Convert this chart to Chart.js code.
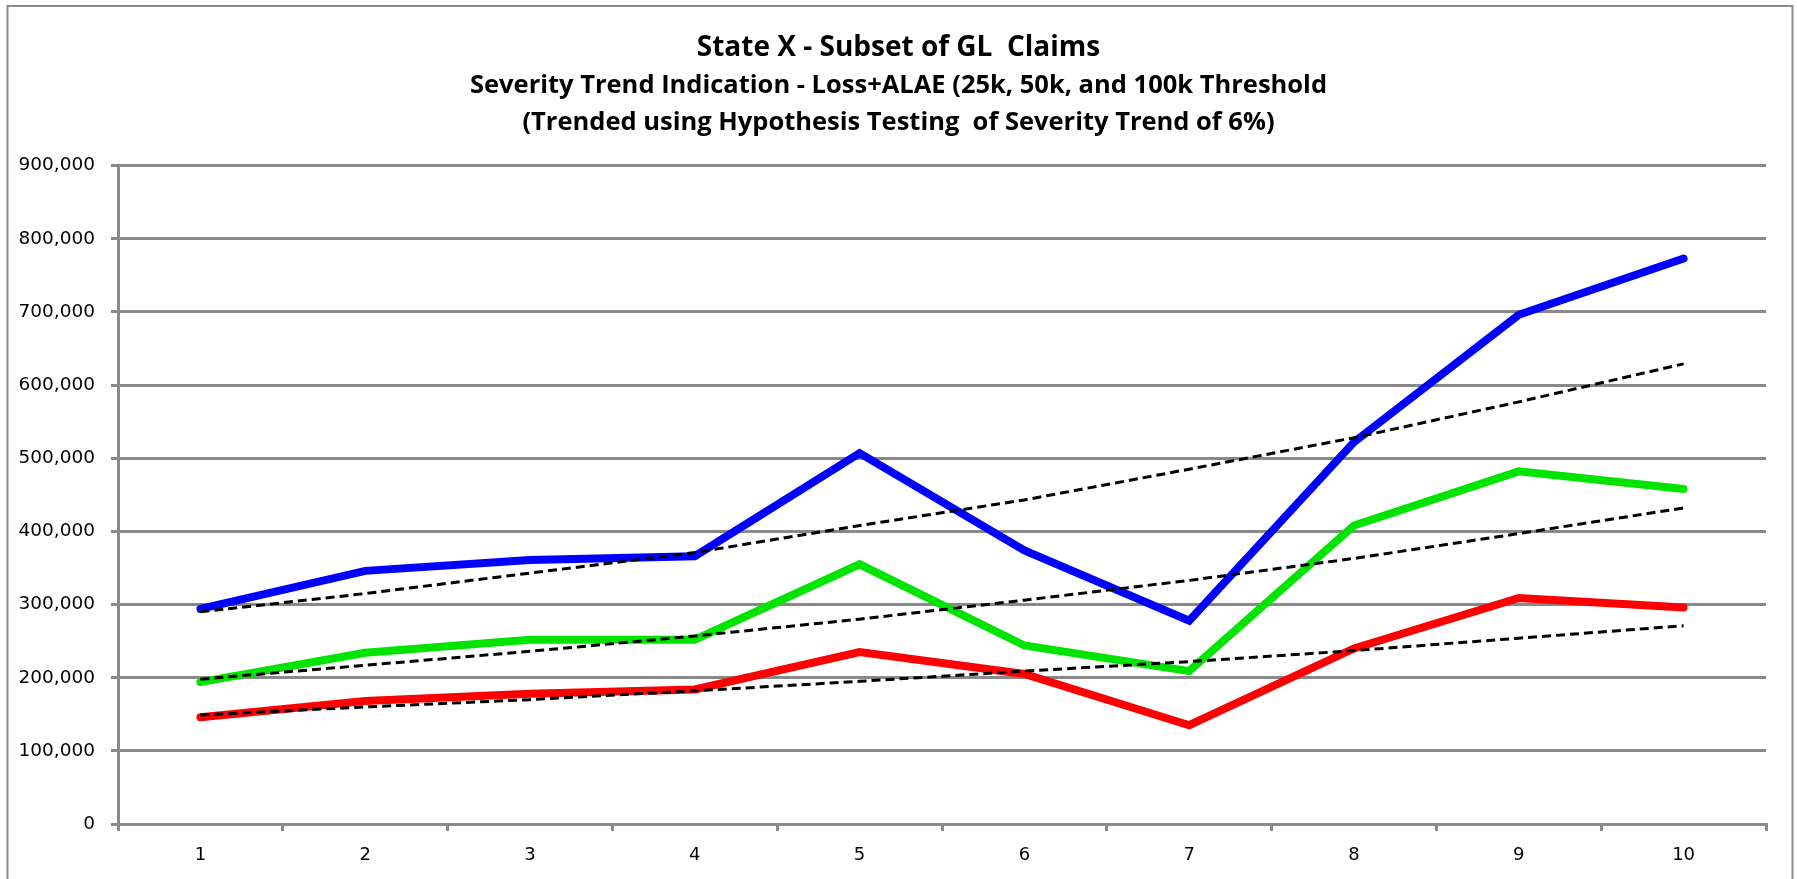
<!DOCTYPE html>
<html>
<head>
<meta charset="utf-8">
<script src="https://cdn.jsdelivr.net/npm/chart.js@4/dist/chart.umd.min.js"></script>
<style>
  html, body { margin: 0; padding: 0; background: #ffffff; }
  #wrap { width: 1797px; height: 879px; position: relative; }
</style>
</head>
<body>
<div id="wrap"><canvas id="chart" width="1797" height="879"></canvas></div>
<script>
// Evaluation periods
const periods = ['1', '2', '3', '4', '5', '6', '7', '8', '9', '10'];

// Average severity (Loss+ALAE) by threshold
const severity100k = [294000, 346000, 361000, 366000, 507000, 374000, 278000, 522000, 696000, 773000];
const severity50k  = [194000, 234000, 252000, 252000, 355000, 244000, 209000, 408000, 482000, 458000];
const severity25k  = [146000, 168000, 178000, 184000, 235000, 205000, 135000, 240000, 309000, 296000];

// Fitted trend lines for each threshold
const trend100k = [290000, 315000, 343000, 371000, 408000, 443000, 485000, 528000, 577000, 629000];
const trend50k  = [198000, 217000, 236000, 257000, 280000, 306000, 333000, 363000, 397000, 432000];
const trend25k  = [149000, 160000, 170000, 182000, 195000, 209000, 222000, 237000, 254000, 271000];

// Axis range
const yMin = 0;
const yMax = 900000;
const yStep = 100000;

const titleText = 'State X - Subset of GL  Claims';
const subtitleLines = [
  'Severity Trend Indication - Loss+ALAE (25k, 50k, and 100k Threshold',
  '(Trended using Hypothesis Testing  of Severity Trend of 6%)'
];

const axisGray = '#898989';

// White background plus the thin frame around the chart box
const framePlugin = {
  id: 'frame',
  beforeDraw(chart) {
    const ctx = chart.ctx;
    ctx.save();
    ctx.fillStyle = '#ffffff';
    ctx.fillRect(0, 0, chart.width, chart.height);
    ctx.strokeStyle = '#8a8a8a';
    ctx.lineWidth = 2;
    ctx.strokeRect(7.5, 6, 1785, chart.height + 20);
    ctx.restore();
  }
};

const seriesLine = (data, color) => ({
  data,
  borderColor: color,
  backgroundColor: color,
  borderWidth: 8,
  borderCapStyle: 'round',
  borderJoinStyle: 'miter',
  pointRadius: 0,
  tension: 0,
  fill: false,
  order: 2
});

const trendLine = (data) => ({
  data,
  borderColor: '#000000',
  borderWidth: 3,
  borderDash: [9, 5],
  pointRadius: 0,
  tension: 0,
  fill: false,
  order: 1
});

new Chart(document.getElementById('chart'), {
  type: 'line',
  data: {
    labels: periods,
    datasets: [
      seriesLine(severity100k, '#0000ff'),
      seriesLine(severity50k, '#00e400'),
      seriesLine(severity25k, '#ff0000'),
      trendLine(trend100k),
      trendLine(trend50k),
      trendLine(trend25k)
    ]
  },
  plugins: [framePlugin],
  options: {
    responsive: false,
    animation: false,
    events: [],
    layout: { padding: 0 },
    plugins: {
      legend: { display: false },
      tooltip: { enabled: false },
      title: {
        display: true,
        text: titleText,
        color: '#000000',
        font: { family: 'Open Sans', weight: 'bold', size: 28, lineHeight: 1.2 },
        padding: { top: 31, bottom: 3 }
      },
      subtitle: {
        display: true,
        text: subtitleLines,
        color: '#000000',
        font: { family: 'Open Sans', weight: 'bold', size: 25.5, lineHeight: 1.451 },
        padding: { top: 0, bottom: 24 }
      }
    },
    scales: {
      x: {
        type: 'category',
        offset: true,
        afterFit(scale) { scale.height = 55; },
        grid: {
          display: true,
          offset: true,
          drawOnChartArea: false,
          drawTicks: true,
          tickLength: 7,
          tickWidth: 3,
          tickColor: axisGray,
          color: axisGray,
          lineWidth: 3
        },
        border: { display: true, color: axisGray, width: 3 },
        ticks: {
          color: '#000000',
          font: { family: 'DejaVu Sans', size: 18 },
          padding: 14,
          maxRotation: 0,
          autoSkip: false
        }
      },
      y: {
        min: yMin,
        max: yMax,
        afterFit(scale) { scale.width = 118; },
        grid: {
          color: axisGray,
          lineWidth: 3,
          drawTicks: true,
          tickLength: 7,
          tickColor: axisGray
        },
        border: { display: true, color: axisGray, width: 3 },
        ticks: {
          stepSize: yStep,
          color: '#000000',
          font: { family: 'DejaVu Sans', size: 18.5 },
          padding: 16,
          callback: (v) => v.toLocaleString('en-US')
        }
      },
      // blank margin on the right side of the plot
      margin: {
        type: 'linear',
        position: 'right',
        afterFit(scale) { scale.width = 31; },
        grid: { display: false, drawTicks: false },
        border: { display: false },
        ticks: { display: false }
      }
    }
  }
});
</script>
</body>
</html>
